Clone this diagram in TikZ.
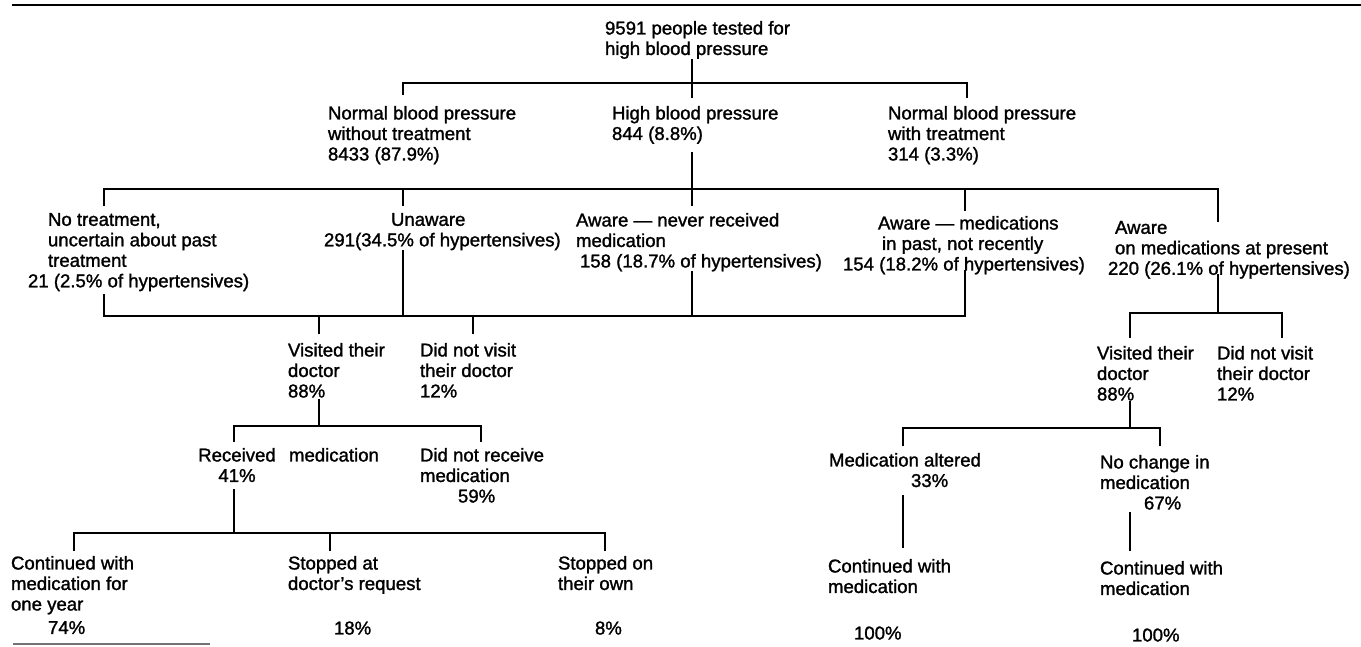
\documentclass[tikz,border=0pt]{standalone}
\usepackage{fontspec}
\setmainfont{Liberation Sans}[RawFeature={embolden=1.4}]
\begin{document}
\begin{tikzpicture}[x=1pt,y=-1pt,
  lbl/.style={anchor=north west,inner sep=0pt,outer sep=0pt,align=left,
    font=\fontsize{18.6}{20.5}\selectfont},
  conn/.style={line width=1.7pt,line cap=rect}]
\useasboundingbox (0,0) rectangle (1361,646);
\fill[white] (0,0) rectangle (1361,646);

% rules
\coordinate (ruleL) at (13,5); \coordinate (ruleR) at (1361,5);
\draw[conn] (ruleL) -- (ruleR);
\coordinate (footL) at (13,644); \coordinate (footR) at (210,644);
\draw[line width=1.4pt,black!55] (footL) -- (footR);

% nodes
\node[lbl] (root) at (605,21) {9591 people tested for\\high blood pressure};
\node[lbl] (n1) at (328,106) {Normal blood pressure\\without treatment\\8433 (87.9\%)};
\node[lbl] (n2) at (612,106) {High blood pressure\\844 (8.8\%)};
\node[lbl] (n3) at (888,106) {Normal blood pressure\\with treatment\\314 (3.3\%)};

\node[lbl] (m1) at (28,213) {\hspace*{20pt}No treatment,\\\hspace*{20pt}uncertain about past\\\hspace*{20pt}treatment\\21 (2.5\% of hypertensives)};
\node[lbl] (m2) at (324,213) {\hspace*{67pt}Unaware\\291(34.5\% of hypertensives)};
\node[lbl] (m3) at (576,213) {Aware — never received\\medication\\\hspace*{4pt}158 (18.7\% of hypertensives)};
\node[lbl] (m4) at (843,216) {\hspace*{35pt}Aware — medications\\\hspace*{39pt}in past, not recently\\154 (18.2\% of hypertensives)};
\node[lbl] (m5) at (1108,221) {\hspace*{7pt}Aware\\\hspace*{7pt}on medications at present\\220 (26.1\% of hypertensives)};

\node[lbl] (v1) at (288,343) {Visited their\\doctor\\88\%};
\node[lbl] (d1) at (420,343) {Did not visit\\their doctor\\12\%};
\node[lbl] (v2) at (1097,346) {Visited their\\doctor\\88\%};
\node[lbl] (d2) at (1217,346) {Did not visit\\their doctor\\12\%};

\node[lbl,anchor=north,align=center] (r1) at (237,448) {Received\\41\%};
\node[lbl] (med) at (289,448) {medication};
\node[lbl] (nr1) at (420,448) {Did not receive\\medication\\\hspace*{38pt}59\%};
\node[lbl] (ma) at (829,453) {Medication altered\\\hspace*{82pt}33\%};
\node[lbl] (nc) at (1100,455) {No change in\\medication\\\hspace*{44pt}67\%};

\node[lbl] (c1) at (11,556) {Continued with\\medication for\\one year\\[3pt]\hspace*{37pt}74\%};
\node[lbl] (s1) at (288,556) {Stopped at\\doctor’s request\\[24pt]\hspace*{46pt}18\%};
\node[lbl] (s2) at (558,556) {Stopped on\\their own\\[24pt]\hspace*{37pt}8\%};
\node[lbl] (c2) at (828,559) {Continued with\\medication\\[26pt]\hspace*{26pt}100\%};
\node[lbl] (c3) at (1100,561) {Continued with\\medication\\[26pt]\hspace*{32pt}100\%};

% level 1 connectors
\coordinate (rootB) at (692,60);
\coordinate (n2T) at (692,97);
\coordinate (h1L) at (403,83);
\coordinate (h1R) at (967,83);
\coordinate (n1T) at (403,94);
\coordinate (n3T) at (967,97);
\draw[conn] (rootB) -- (n2T);
\draw[conn] (n1T) -- (h1L) -- (h1R) -- (n3T);

% level 2 connectors
\coordinate (n2B) at (692,153);
\coordinate (m3T) at (692,205);
\coordinate (h2L) at (104,189);
\coordinate (h2R) at (1218,189);
\coordinate (m1T) at (104,205);
\coordinate (m2T) at (403,205);
\coordinate (m4T) at (965,210);
\coordinate (m5T) at (1218,221);
\draw[conn] (n2B) -- (m3T);
\draw[conn] (m1T) -- (h2L) -- (h2R) -- (m5T);
\draw[conn] (m2T) -- (m2T|-h2L);
\draw[conn] (m4T) -- (m4T|-h2L);

% level 3 connectors (left group)
\coordinate (m1B) at (104,295);
\coordinate (m2B) at (403,251);
\coordinate (m3B) at (692,272);
\coordinate (m4B) at (965,271);
\coordinate (h3L) at (104,316);
\coordinate (h3R) at (965,316);
\coordinate (v1T) at (319,333);
\coordinate (d1T) at (473,333);
\draw[conn] (m1B) -- (h3L) -- (h3R) -- (m4B);
\draw[conn] (m2B) -- (m2B|-h3L);
\draw[conn] (m3B) -- (m3B|-h3L);
\draw[conn] (v1T) -- (v1T|-h3L);
\draw[conn] (d1T) -- (d1T|-h3L);

% level 3 connectors (right group)
\coordinate (m5B) at (1218,275);
\coordinate (h3bM) at (1218,313);
\coordinate (h3bL) at (1130,313);
\coordinate (h3bR) at (1282,313);
\coordinate (v2T) at (1130,337);
\coordinate (d2T) at (1282,337);
\draw[conn] (m5B) -- (h3bM);
\draw[conn] (v2T) -- (h3bL) -- (h3bR) -- (d2T);

% level 4 connectors
\coordinate (v1B) at (319,400);
\coordinate (h4L) at (234,426);
\coordinate (h4R) at (481,426);
\coordinate (r1T) at (234,441);
\coordinate (nr1T) at (481,441);
\draw[conn] (v1B) -- (v1B|-h4L);
\draw[conn] (r1T) -- (h4L) -- (h4R) -- (nr1T);

\coordinate (v2B) at (1130,402);
\coordinate (h4bL) at (903,428);
\coordinate (h4bR) at (1160,428);
\coordinate (maT) at (903,445);
\coordinate (ncT) at (1160,445);
\draw[conn] (v2B) -- (v2B|-h4bL);
\draw[conn] (maT) -- (h4bL) -- (h4bR) -- (ncT);

% level 5 connectors
\coordinate (r1B) at (234,490);
\coordinate (h5L) at (74,533);
\coordinate (h5R) at (605,533);
\coordinate (c1T) at (74,550);
\coordinate (s1T) at (330,550);
\coordinate (s2T) at (605,550);
\draw[conn] (r1B) -- (r1B|-h5L);
\draw[conn] (c1T) -- (h5L) -- (h5R) -- (s2T);
\draw[conn] (s1T) -- (s1T|-h5L);

\coordinate (maB) at (903,496);
\coordinate (c2T) at (903,547);
\coordinate (ncB) at (1130,513);
\coordinate (c3T) at (1130,550);
\draw[conn] (maB) -- (c2T);
\draw[conn] (ncB) -- (c3T);
\end{tikzpicture}
\end{document}
